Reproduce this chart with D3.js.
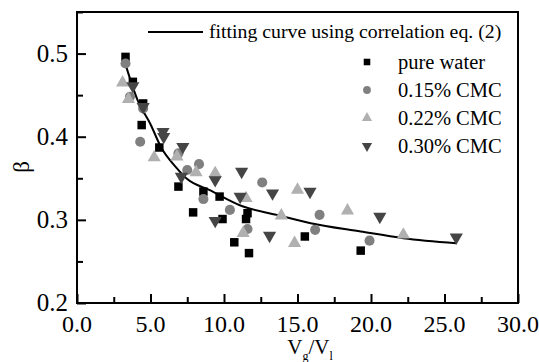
<!DOCTYPE html>
<html>
<head>
<meta charset="utf-8">
<script src="https://cdn.jsdelivr.net/npm/d3@7"></script>
<style>
  body { margin: 0; background: #fff; }
  svg { display: block; font-family: "Liberation Serif", "DejaVu Serif", serif; }
</style>
</head>
<body>
<svg id="chart" width="539" height="362"></svg>
<script>
// values: [Vg/Vl, beta]
var pureWater = [[3.3, 0.496], [3.8, 0.466], [4.5, 0.44], [4.4, 0.414], [5.6, 0.387], [6.9, 0.34],
  [7.9, 0.309], [8.6, 0.334], [9.7, 0.328], [9.9, 0.301], [10.7, 0.273], [11.6, 0.308],
  [11.5, 0.301], [11.7, 0.26], [15.5, 0.28], [19.3, 0.263]];
var cmc015 = [[3.3, 0.488], [3.6, 0.448], [4.5, 0.434], [4.3, 0.394], [6.9, 0.38], [7.5, 0.36],
  [8.3, 0.367], [8.6, 0.325], [10.4, 0.312], [11.6, 0.289], [12.6, 0.345], [16.5, 0.306],
  [16.2, 0.288], [19.9, 0.275]];
var cmc022 = [[3.1, 0.465], [3.5, 0.445], [5.25, 0.375], [6.8, 0.376], [8.1, 0.357], [9.4, 0.356],
  [11.5, 0.326], [11.3, 0.284], [13.9, 0.305], [14.8, 0.272], [15.0, 0.336], [18.4, 0.311],
  [22.2, 0.282]];
var cmc030 = [[3.8, 0.461], [4.5, 0.436], [5.85, 0.406], [5.9, 0.40], [7.2, 0.388], [7.1, 0.352],
  [9.4, 0.348], [9.4, 0.299], [11.2, 0.358], [11.1, 0.328], [13.3, 0.332], [13.1, 0.281],
  [15.85, 0.334], [20.6, 0.304], [25.8, 0.279]];
// fitted curve
var fitCurve = [[3.3, 0.487], [4.1, 0.445], [5.0, 0.415], [5.7, 0.388], [6.8, 0.362], [7.5, 0.349],
  [9.0, 0.336], [11.3, 0.316], [13.6, 0.306], [15.9, 0.296], [19.3, 0.286], [22.2, 0.278], [25.8, 0.272]];

var xTicks = [0, 5, 10, 15, 20, 25, 30];
var yTicks = [0.2, 0.3, 0.4, 0.5];
var seriesNames = ["pure water", "0.15% CMC", "0.22% CMC", "0.30% CMC"];
var fitLabel = "fitting curve using correlation eq. (2)";

var width = 539, height = 362;
var margin = { top: 12, right: 21, bottom: 59, left: 77 };

var svg = d3.select("#chart");

var x = d3.scaleLinear().domain([0, 30]).range([margin.left, width - margin.right]);
var y = d3.scaleLinear().domain([0.2, 0.55]).range([height - margin.bottom, margin.top]);

// minor + major ticks, pointing inward
var xAxis = d3.axisBottom(x).tickValues(d3.range(0, 30.01, 2.5)).tickSize(-6).tickFormat("");
var yAxis = d3.axisLeft(y).tickValues(d3.range(0.2, 0.551, 0.05)).tickSize(-6).tickFormat("");

var gx = svg.append("g").attr("transform", `translate(0,${height - margin.bottom})`).call(xAxis);
var gy = svg.append("g").attr("transform", `translate(${margin.left},0)`).call(yAxis);
[gx, gy].forEach(g => {
  g.select(".domain").remove();
  g.selectAll("line").attr("stroke", "#000").attr("stroke-width", 2);
});
// major ticks a bit longer
gx.selectAll(".tick line").filter(d => Math.abs(d % 5) < 1e-6).attr("y2", -9);
gy.selectAll(".tick line").filter(d => Math.abs(Math.round(d * 10) - d * 10) < 1e-6).attr("x2", 9);

// frame
svg.append("rect")
  .attr("x", margin.left).attr("y", margin.top)
  .attr("width", width - margin.left - margin.right)
  .attr("height", height - margin.top - margin.bottom)
  .attr("fill", "none").attr("stroke", "#000").attr("stroke-width", 2);

// tick labels
svg.append("g").selectAll("text").data(xTicks).join("text")
  .attr("x", d => x(d)).attr("y", height - margin.bottom + 29)
  .attr("text-anchor", "middle").attr("font-size", 24)
  .text(d => d.toFixed(1));
svg.append("g").selectAll("text").data(yTicks).join("text")
  .attr("x", margin.left - 9).attr("y", d => y(d) + 8)
  .attr("text-anchor", "end").attr("font-size", 25)
  .text(d => d.toFixed(1));

// axis titles
svg.append("text")
  .attr("transform", `translate(29,167) rotate(-90)`)
  .attr("text-anchor", "middle").attr("font-size", 23)
  .text("β");
var xt = svg.append("text").attr("x", 310).attr("y", 354)
  .attr("text-anchor", "middle").attr("font-size", 21);
xt.append("tspan").text("V");
xt.append("tspan").attr("font-size", 12).attr("dy", 6).text("g");
xt.append("tspan").attr("dy", -6).text("/V");
xt.append("tspan").attr("font-size", 12).attr("dy", 6).text("l");

// fitting curve
var line = d3.line().x(d => x(d[0])).y(d => y(d[1])).curve(d3.curveMonotoneX);
svg.append("path").datum(fitCurve)
  .attr("d", line).attr("fill", "none").attr("stroke", "#000").attr("stroke-width", 2);

var styles = [
  { data: pureWater, shape: d3.symbolSquare, size: 72, color: "#000000" },
  { data: cmc015, shape: d3.symbolCircle, size: 80, color: "#808080" },
  { data: cmc022, shape: d3.symbolTriangle, size: 75, color: "#b0b0b0", rot: 0 },
  { data: cmc030, shape: d3.symbolTriangle, size: 75, color: "#454545", rot: 180 }
];

styles.forEach(s => {
  var sym = d3.symbol().type(s.shape).size(s.size);
  svg.append("g").selectAll("path").data(s.data).join("path")
    .attr("d", sym)
    .attr("fill", s.color)
    .attr("transform", d => `translate(${x(d[0])},${y(d[1])})` + (s.rot ? ` rotate(${s.rot})` : ""));
});

// legend
var lg = svg.append("g");
lg.append("line").attr("x1", 148).attr("x2", 203).attr("y1", 32).attr("y2", 32)
  .attr("stroke", "#000").attr("stroke-width", 2);
lg.append("text").attr("x", 209).attr("y", 38).attr("font-size", 19.8).text(fitLabel);

styles.forEach((s, i) => {
  var yy = 62 + i * 28;
  var sym = d3.symbol().type(s.shape).size(s.size * 0.6);
  lg.append("path").attr("d", sym).attr("fill", s.color)
    .attr("transform", `translate(367,${yy})` + (s.rot ? ` rotate(${s.rot})` : ""));
  lg.append("text").attr("x", 398).attr("y", yy + 7).attr("font-size", 20.5).text(seriesNames[i]);
});
</script>
</body>
</html>
